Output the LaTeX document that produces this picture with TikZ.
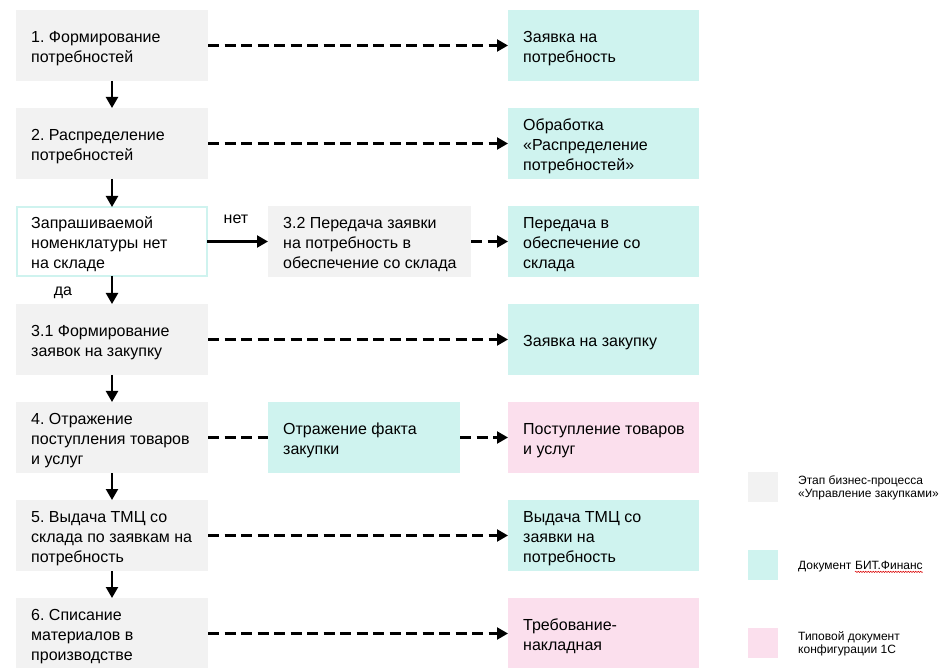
\documentclass[tikz,border=0pt]{standalone}
\usepackage{fontspec}
\setmainfont{Liberation Sans}
\frenchspacing
\usetikzlibrary{arrows.meta,decorations.pathmorphing}

\definecolor{stepgray}{RGB}{242,242,242}
\definecolor{bitteal}{RGB}{207,243,239}
\definecolor{typpink}{RGB}{251,223,237}

\tikzset{
  basebox/.style={anchor=north west, minimum height=71pt, inner sep=0pt, outer sep=0pt},
  stepbox/.style={basebox, fill=stepgray, minimum width=192pt},
  decisionbox/.style={basebox, fill=white, draw=bitteal, line width=2pt,
    minimum width=190pt, minimum height=69pt},
  midbox/.style={basebox, fill=stepgray, minimum width=203pt},
  factbox/.style={basebox, fill=bitteal, minimum width=192pt},
  bitbox/.style={basebox, fill=bitteal, minimum width=191pt},
  pinkbox/.style={basebox, fill=typpink, minimum width=191pt},
  boxtext/.style={anchor=west, align=left, inner sep=0pt,
    font=\fontsize{16pt}{20pt}\selectfont},
  tip/.style={-{Triangle[length=11pt,width=12pt]}},
  flow/.style={line width=2.2pt, tip},
  docflow/.style={line width=2.2pt, dash pattern=on 11pt off 5.5pt, tip},
  docline/.style={line width=2.2pt, dash pattern=on 11pt off 5.5pt},
  branchlabel/.style={font=\fontsize{16pt}{20pt}\selectfont, inner sep=0pt},
  legendsq/.style={fill=#1, minimum width=30pt, minimum height=30pt, inner sep=0pt, anchor=north west},
  legendtext/.style={anchor=west, align=left, inner sep=0pt, font=\fontsize{12pt}{13.3pt}\selectfont}
}

\begin{document}
\begin{tikzpicture}[x=1pt,y=-1pt]
\useasboundingbox (0,0) rectangle (951,668);

% process steps (left column)
\node[stepbox] (s1) at (16,10)  {};
\node[stepbox] (s2) at (16,108) {};
\node[decisionbox] (q3) at (17,207) {};
\node[stepbox] (s31) at (16,304) {};
\node[stepbox] (s4) at (16,402) {};
\node[stepbox] (s5) at (16,500) {};
\node[stepbox] (s6) at (16,598) {};
\node[boxtext] (s1t) at ([xshift=15pt,yshift=-3pt]s1.west) {1. Формирование\\потребностей};
\node[boxtext] (s2t) at ([xshift=15pt,yshift=-3pt]s2.west) {2. Распределение\\потребностей};
\node[boxtext] (q3t) at ([xshift=14pt,yshift=-3pt]q3.west) {Запрашиваемой\\номенклатуры нет\\на складе};
\node[boxtext] (s31t) at ([xshift=15pt,yshift=-3pt]s31.west) {3.1 Формирование\\заявок на закупку};
\node[boxtext] (s4t) at ([xshift=15pt,yshift=-3pt]s4.west) {4. Отражение\\поступления товаров\\и услуг};
\node[boxtext] (s5t) at ([xshift=15pt,yshift=-3pt]s5.west) {5. Выдача ТМЦ со\\склада по заявкам на\\потребность};
\node[boxtext] (s6t) at ([xshift=15pt,yshift=-3pt]s6.west) {6. Списание\\материалов в\\производстве};

% middle column
\node[midbox] (s32) at (268,206) {};
\node[factbox] (f4) at (268,402) {};
\node[boxtext] (s32t) at ([xshift=15pt,yshift=-3pt]s32.west) {3.2 Передача заявки\\на потребность в\\обеспечение со склада};
\node[boxtext] (f4t) at ([xshift=15pt,yshift=-3pt]f4.west) {Отражение факта\\закупки};

% documents (right column)
\node[bitbox] (d1) at (508,10)  {};
\node[bitbox] (d2) at (508,108) {};
\node[bitbox] (d3) at (508,206) {};
\node[bitbox] (d31) at (508,304) {};
\node[pinkbox] (d4) at (508,402) {};
\node[bitbox] (d5) at (508,500) {};
\node[pinkbox] (d6) at (508,598) {};
\node[boxtext] (d1t) at ([xshift=15pt,yshift=-3pt]d1.west) {Заявка на\\потребность};
\node[boxtext] (d2t) at ([xshift=15pt,yshift=-3pt]d2.west) {Обработка\\«Распределение\\потребностей»};
\node[boxtext] (d3t) at ([xshift=15pt,yshift=-3pt]d3.west) {Передача в\\обеспечение со\\склада};
\node[boxtext] (d31t) at ([xshift=15pt,yshift=-3pt]d31.west) {Заявка на закупку};
\node[boxtext] (d4t) at ([xshift=15pt,yshift=-3pt]d4.west) {Поступление товаров\\и услуг};
\node[boxtext] (d5t) at ([xshift=15pt,yshift=-3pt]d5.west) {Выдача ТМЦ со\\заявки на\\потребность};
\node[boxtext] (d6t) at ([xshift=15pt,yshift=-3pt]d6.west) {Требование-\\накладная};

% sequence of steps
\draw[flow] (s1.south) -- (s2.north);
\draw[flow] (s2.south) -- (s2.south |- q3.north);
\draw[flow] (q3.south) -- (q3.south |- s31.north);
\draw[flow] (s31.south) -- (s4.north);
\draw[flow] (s4.south) -- (s5.north);
\draw[flow] (s5.south) -- (s6.north);
\draw[flow] (q3.east) -- (q3.east -| s32.west);

\node[branchlabel] (no) at (236,219) {нет};
\node[branchlabel] (yes) at (63,293) {да};

% steps to documents
\draw[docflow] (s1.east) -- (d1.west);
\draw[docflow] (s2.east) -- (d2.west);
\draw[docflow] (s32.east) -- (d3.west);
\draw[docflow] (s31.east) -- (d31.west);
\draw[docline] (s4.east) -- (f4.west);
\draw[docflow] (f4.east) -- (d4.west);
\draw[docflow] (s5.east) -- (d5.west);
\draw[docflow] (s6.east) -- (d6.west);

% legend
\node[legendsq=stepgray] (l1) at (748,472) {};
\node[legendsq=bitteal]  (l2) at (748,550) {};
\node[legendsq=typpink]  (l3) at (748,628) {};
\node[legendtext] (t1) at (798,487.5) {Этап бизнес-процесса\\«Управление закупками»};
\node[legendtext] (t2) at (798,566.5) {Документ};
\node[legendtext, anchor=base west] (t2b) at ([xshift=3.3pt]t2.base east) {БИТ.Финанс};
\node[legendtext] (t3) at (798,644) {Типовой документ\\конфигурации 1С};
\draw[red!85!black, line width=0.5pt, decorate,
  decoration={snake, amplitude=0.7pt, segment length=2.5pt}]
  ([yshift=-2.5pt]t2b.base west) -- ([yshift=-2.5pt]t2b.base east);
\end{tikzpicture}
\end{document}
